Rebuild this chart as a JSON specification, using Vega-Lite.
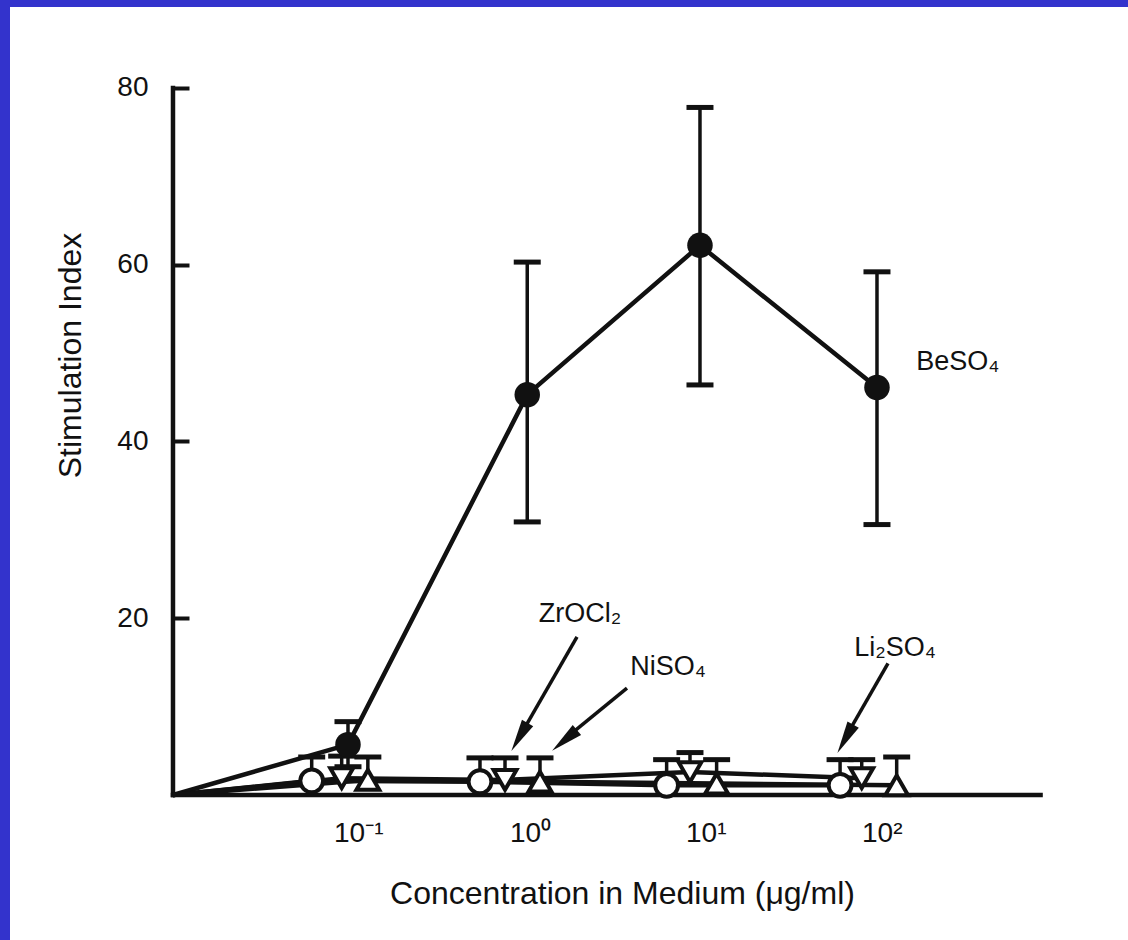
{
  "$schema": "https://vega.github.io/schema/vega-lite/v6.json",
  "width": 1118,
  "height": 933,
  "autosize": {"type": "none"},
  "padding": {"left": 10, "top": 7, "right": 0, "bottom": 0},
  "background": "#3333cc",
  "config": {
    "view": {"fill": "white", "stroke": null},
    "font": "Liberation Sans",
    "axis": {"grid": false, "labelColor": "#111", "titleColor": "#111", "titleFontWeight": "normal", "labelFont": "Liberation Sans", "titleFont": "Liberation Sans"}
  },
  "datasets": {
    "frame": [
      {"x": 0.01, "x2": 0.01, "y": 0, "y2": 80},
      {"x": 0.01, "x2": 850, "y": 0, "y2": 0}
    ],
    "pts": [
      {"s": "BeSO4", "x": 0.01, "y": 0},
      {"s": "BeSO4", "x": 0.0987, "y": 5.7, "lo": 3.2, "hi": 8.3},
      {"s": "BeSO4", "x": 1.03, "y": 45.3, "lo": 30.9, "hi": 60.3},
      {"s": "BeSO4", "x": 9.87, "y": 62.2, "lo": 46.4, "hi": 77.8},
      {"s": "BeSO4", "x": 100, "y": 46.1, "lo": 30.6, "hi": 59.2},
      {"s": "Li2SO4", "x": 0.01, "y": 0},
      {"s": "Li2SO4", "x": 0.0614, "y": 1.6, "lo": 1.6, "hi": 4.3},
      {"s": "Li2SO4", "x": 0.555, "y": 1.5, "lo": 1.5, "hi": 4.2},
      {"s": "Li2SO4", "x": 6.38, "y": 1.1, "lo": 1.1, "hi": 4.0},
      {"s": "Li2SO4", "x": 61.7, "y": 1.1, "lo": 1.1, "hi": 4.0},
      {"s": "ZrOCl2", "x": 0.01, "y": 0},
      {"s": "ZrOCl2", "x": 0.0909, "y": 1.9, "lo": 1.9, "hi": 4.4},
      {"s": "ZrOCl2", "x": 0.77, "y": 1.7, "lo": 1.7, "hi": 4.2},
      {"s": "ZrOCl2", "x": 8.66, "y": 2.6, "lo": 2.6, "hi": 4.8},
      {"s": "ZrOCl2", "x": 81.9, "y": 1.9, "lo": 1.9, "hi": 4.0},
      {"s": "NiSO4", "x": 0.01, "y": 0},
      {"s": "NiSO4", "x": 0.128, "y": 1.7, "lo": 1.7, "hi": 4.3},
      {"s": "NiSO4", "x": 1.217, "y": 1.5, "lo": 1.5, "hi": 4.2},
      {"s": "NiSO4", "x": 12.27, "y": 1.3, "lo": 1.3, "hi": 4.0},
      {"s": "NiSO4", "x": 129.4, "y": 1.1, "lo": 1.1, "hi": 4.3}
    ],
    "labels": [
      {"t": "BeSO₄", "x": 288, "y": 49.0},
      {"t": "ZrOCl₂", "x": 2.053, "y": 20.5},
      {"t": "NiSO₄", "x": 6.49, "y": 14.5},
      {"t": "Li₂SO₄", "x": 126.5, "y": 16.6}
    ],
    "arrows": [
      {"x": 1.975, "y": 17.9, "x2": 0.95, "y2": 6.9, "hx": 0.9306, "hy": 6.56, "ang": 210},
      {"x": 3.797, "y": 12.1, "x2": 1.72, "y2": 6.5, "hx": 1.677, "hy": 6.18, "ang": 230},
      {"x": 115.5, "y": 14.9, "x2": 67.0, "y2": 6.7, "hx": 66.07, "hy": 6.35, "ang": 209}
    ]
  },
  "layer": [
    {
      "data": {"name": "frame"},
      "mark": {"type": "rule", "strokeWidth": 4.5, "color": "#111", "strokeCap": "square"},
      "encoding": {
        "x": {
          "field": "x", "type": "quantitative",
          "scale": {"type": "log", "domain": [0.0011856, 2668.4], "nice": false},
          "axis": {
            "values": [0.1, 1, 10, 100],
            "labelExpr": "datum.value == 0.1 ? '10⁻¹' : datum.value == 1 ? '10⁰' : datum.value == 10 ? '10¹' : '10²'",
            "ticks": false, "domain": false, "offset": -145,
            "labelPadding": 24, "labelFontSize": 28, "labelAlign": "left", "labelOffset": -15.5,
            "labelFlush": false, "labelOverlap": false,
            "title": "Concentration in Medium (μg/ml)", "titleFontSize": 32,
            "titleX": 612, "titleY": 98, "titleAlign": "center", "titleBaseline": "middle"
          }
        },
        "x2": {"field": "x2"},
        "y": {
          "field": "y", "type": "quantitative",
          "scale": {"domain": [-16.407, 89.165], "nice": false, "zero": false},
          "axis": {
            "values": [20, 40, 60, 80],
            "tickSize": -16, "tickWidth": 4, "tickColor": "#111",
            "domain": false, "offset": -163,
            "labelPadding": 41, "labelFontSize": 28,
            "title": "Stimulation Index", "titleFontSize": 32,
            "titleX": -103, "titleY": 348, "titleAngle": -90, "titleAlign": "center", "titleBaseline": "middle"
          }
        },
        "y2": {"field": "y2"}
      }
    },
    {
      "data": {"name": "pts"},
      "mark": {"type": "line", "strokeWidth": 4.5, "color": "#111"},
      "encoding": {
        "x": {"field": "x", "type": "quantitative"},
        "y": {"field": "y", "type": "quantitative"},
        "detail": {"field": "s"}
      }
    },
    {
      "data": {"name": "pts"},
      "transform": [{"filter": "datum.hi != null"}],
      "mark": {"type": "rule", "strokeWidth": 3.5, "color": "#111"},
      "encoding": {
        "x": {"field": "x", "type": "quantitative"},
        "y": {"field": "lo", "type": "quantitative"},
        "y2": {"field": "hi"}
      }
    },
    {
      "data": {"name": "pts"},
      "transform": [{"filter": "datum.hi != null"}],
      "mark": {"type": "tick", "orient": "horizontal", "size": 27, "thickness": 5, "color": "#111", "opacity": 1},
      "encoding": {
        "x": {"field": "x", "type": "quantitative"},
        "y": {"field": "hi", "type": "quantitative"}
      }
    },
    {
      "data": {"name": "pts"},
      "transform": [{"filter": "datum.s == 'BeSO4' && datum.lo != null"}],
      "mark": {"type": "tick", "orient": "horizontal", "size": 27, "thickness": 5, "color": "#111", "opacity": 1},
      "encoding": {
        "x": {"field": "x", "type": "quantitative"},
        "y": {"field": "lo", "type": "quantitative"}
      }
    },
    {
      "data": {"name": "pts"},
      "transform": [{"filter": "datum.x > 0.011 && datum.s != 'BeSO4'"}],
      "mark": {"type": "point", "strokeWidth": 4, "stroke": "#111", "fill": "white", "opacity": 1, "filled": false, "fillOpacity": 1, "size": 520},
      "encoding": {
        "x": {"field": "x", "type": "quantitative"},
        "y": {"field": "y", "type": "quantitative"},
        "shape": {"field": "s", "type": "nominal", "scale": {"domain": ["Li2SO4", "ZrOCl2", "NiSO4"], "range": ["circle", "triangle-down", "triangle-up"]}, "legend": null}
      }
    },
    {
      "data": {"name": "pts"},
      "transform": [{"filter": "datum.x > 0.011 && datum.s == 'BeSO4'"}],
      "mark": {"type": "point", "shape": "circle", "filled": true, "fill": "#111", "opacity": 1, "size": 650},
      "encoding": {
        "x": {"field": "x", "type": "quantitative"},
        "y": {"field": "y", "type": "quantitative"}
      }
    },
    {
      "data": {"name": "arrows"},
      "mark": {"type": "rule", "strokeWidth": 3.5, "color": "#111"},
      "encoding": {
        "x": {"field": "x", "type": "quantitative"},
        "y": {"field": "y", "type": "quantitative"},
        "x2": {"field": "x2"},
        "y2": {"field": "y2"}
      }
    },
    {
      "data": {"name": "arrows"},
      "mark": {"type": "point", "shape": "M0,-1L0.4,1L-0.4,1Z", "filled": true, "fill": "#111", "opacity": 1, "size": 1050},
      "encoding": {
        "x": {"field": "hx", "type": "quantitative"},
        "y": {"field": "hy", "type": "quantitative"},
        "angle": {"field": "ang", "type": "quantitative", "scale": null}
      }
    },
    {
      "data": {"name": "labels"},
      "mark": {"type": "text", "fontSize": 27, "font": "Liberation Sans", "color": "#111", "baseline": "middle", "align": "center"},
      "encoding": {
        "x": {"field": "x", "type": "quantitative"},
        "y": {"field": "y", "type": "quantitative"},
        "text": {"field": "t"}
      }
    }
  ]
}
